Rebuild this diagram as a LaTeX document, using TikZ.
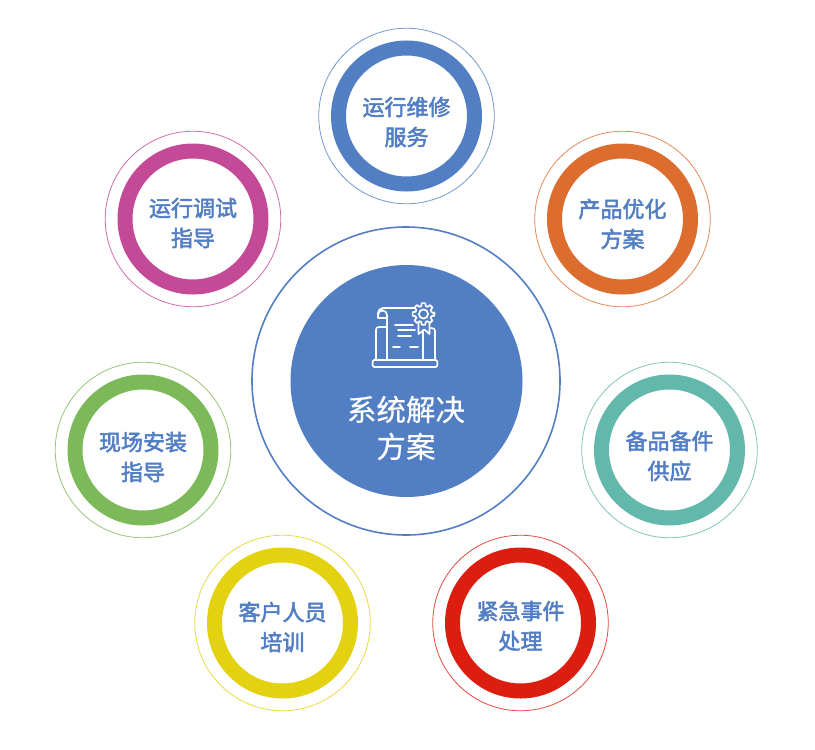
\documentclass[tikz,border=0pt]{standalone}
\usepackage{fontspec}
\setmainfont{Noto Sans CJK SC}
\newfontfamily\labfont{Noto Sans CJK SC}[FakeBold=2.4]
\newfontfamily\corefont{Noto Sans CJK SC}[FakeBold=0.5]
\definecolor{cblue}{HTML}{527EC3}
\definecolor{cpink}{HTML}{C44A98}
\definecolor{corange}{HTML}{DC6D2E}
\definecolor{cgreen}{HTML}{7CB958}
\definecolor{cteal}{HTML}{62B9AB}
\definecolor{cyellow}{HTML}{E4D211}
\definecolor{cred}{HTML}{DC1E10}
\tikzset{
  halo/.style={circle,draw=#1!80!white,line width=0.8pt,minimum size=175.5pt,inner sep=0pt},
  band/.style={circle,draw=#1,line width=15pt,minimum size=136pt,inner sep=0pt},
  lab/.style={text=cblue,font=\fontsize{22}{30}\selectfont\labfont,align=center,inner sep=0pt},
  ic/.style={draw=white,line width=1.7pt,line join=round,line cap=round}
}
\begin{document}
\begin{tikzpicture}[x=1pt,y=-1pt]
\useasboundingbox (0,0) rectangle (815,750);
\fill[white] (0,0) rectangle (815,750);
% centre
\node[circle,draw=cblue,line width=1.6pt,minimum size=308pt,inner sep=0pt] (hub) at (406,381) {};
\node[circle,fill=cblue,minimum size=232pt,inner sep=0pt] (core) at (406.5,381) {};
\node[text=white,font=\fontsize{29.5}{37}\selectfont\corefont,align=center,inner sep=0pt] (corelab) at (406,428) {系统解决\\方案};
% satellites
\foreach \n/\c/\x/\y/\d/\a/\b in {
  top/cblue/406.5/116/6/运行维修/服务,
  pink/cpink/193/219/4/运行调试/指导,
  orange/corange/622.5/219/5/产品优化/方案,
  green/cgreen/143/450/7/现场安装/指导,
  teal/cteal/669.5/450/6/备品备件/供应,
  yellow/cyellow/282.5/623/4/客户人员/培训,
  red/cred/520.5/623/3/紧急事件/处理}{
  \node[halo=\c] (h\n) at (\x,\y) {};
  \node[band=\c] (b\n) at (\x,\y) {};
  \node[lab] (t\n) at (\x,\y+\d) {\a\\\b};
}
% icon
\draw[ic] (387,360) -- (387,315) arc[start angle=0,end angle=-180,radius=4.5]
  -- (378,313) arc[start angle=180,end angle=270,radius=5] -- (414,308);
\draw[ic] (378,315) -- (378,318) -- (387,318);
\draw[ic] (423,330) -- (423,360);
\draw[ic] (387,327) -- (379,327) .. controls (377,327) and (376,328) .. (376,330) -- (376,360);
\draw[ic] (431,328) .. controls (434,328) and (435,329) .. (435,331) -- (435,360);
\draw[ic] (374,360) -- (436,360) .. controls (438,360) and (438,367) .. (436,367) -- (374,367) .. controls (372,367) and (372,360) .. (374,360) -- cycle;
\draw[ic] (395,325) -- (413,325) (398,330) -- (415,330) (398,336) -- (411,336)
  (393,347) -- (400,347) (410,347) -- (418,347);
\begin{scope}[shift={(423.5,314)}]
\draw[ic] (-5,8) -- (-5,20) -- (1,15.5) -- (6,20) -- (6,8);
\draw[ic,fill=cblue] (0:11)
  \foreach \t in {0,45,...,315}{ -- (\t-9:11) -- (\t+9:11) -- (\t+16:8.2) -- (\t+29:8.2) } -- cycle;
\draw[ic] (0,0) circle[radius=4.6];
\end{scope}
\end{tikzpicture}
\end{document}
